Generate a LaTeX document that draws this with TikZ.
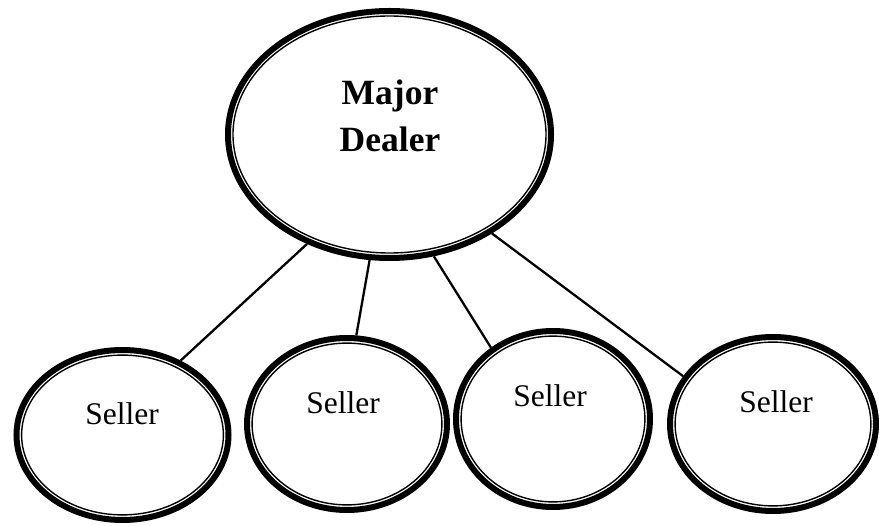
\documentclass[tikz,border=0pt]{standalone}
\usepackage{fontspec}
\setmainfont{Liberation Serif}
\usetikzlibrary{shapes.geometric}
\begin{document}
\begin{tikzpicture}[x=1pt,y=-1pt,
  ring/.style={ellipse, draw, line width=6pt, inner sep=0pt, fill=white},
  innerring/.style={line width=1.4pt},
  link/.style={line width=2.3pt},
  sellertext/.style={inner sep=0pt, font=\fontsize{31.5}{36}\selectfont},
  dealertext/.style={inner sep=0pt, align=center, font=\fontsize{35.5}{47}\selectfont\bfseries}]
\useasboundingbox (0,0) rectangle (879,526);

% outer thick rings
\node[ring, minimum width=323pt, minimum height=247pt] (dealer) at (389.5,134.5) {};
\node[ring, minimum width=212pt, minimum height=170pt] (s1) at (122.5,435) {};
\node[ring, minimum width=200pt, minimum height=172pt] (s2) at (347,424) {};
\node[ring, minimum width=194pt, minimum height=176pt] (s3) at (553,419) {};
\node[ring, minimum width=206pt, minimum height=174pt] (s4) at (773,424) {};

% thin inner rings
\draw[innerring] (dealer.center) ellipse [x radius=156.5, y radius=118.5];
\draw[innerring] (s1.center) ellipse [x radius=100.9, y radius=79.9];
\draw[innerring] (s2.center) ellipse [x radius=94.9, y radius=80.9];
\draw[innerring] (s3.center) ellipse [x radius=91.9, y radius=82.9];
\draw[innerring] (s4.center) ellipse [x radius=97.9, y radius=81.9];

% labels
\node[dealertext] (dealerlabel) at (390,116) {Major\\Dealer};
\node[sellertext] (s1label) at (122,414) {Seller};
\node[sellertext] (s2label) at (343,403) {Seller};
\node[sellertext] (s3label) at (550,396) {Seller};
\node[sellertext] (s4label) at (776,402) {Seller};

% connectors
\draw[link] (dealer.233) -- (s1.52);
\draw[link] (dealer.261) -- (s2.84);
\draw[link] (dealer.290) -- (s3.131);
\draw[link] (dealer.316) -- (s4.152);
\end{tikzpicture}
\end{document}
